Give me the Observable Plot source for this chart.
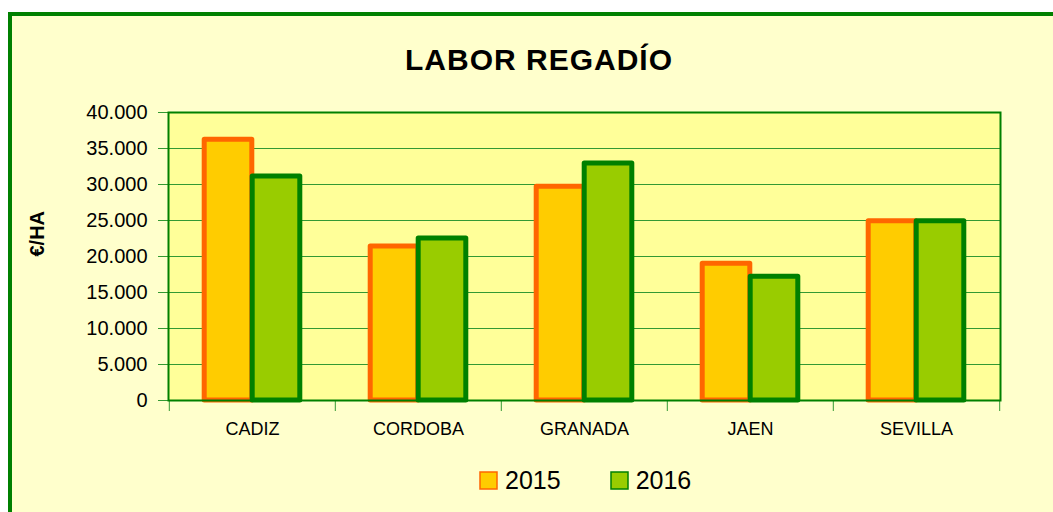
<!DOCTYPE html>
<html>
<head>
<meta charset="utf-8">
<script src="https://cdn.jsdelivr.net/npm/d3@7"></script>
<script src="https://cdn.jsdelivr.net/npm/@observablehq/plot@0.6"></script>
<style>
  html, body { margin: 0; padding: 0; background: #ffffff; overflow: hidden; width: 1053px; height: 512px; }
  #bg { position: absolute; left: 8px; top: 12px; width: 1100px; height: 600px; border: 4px solid #008000; background: #FFFFCC; }
  #chart { position: absolute; left: 0; top: 0; width: 1053px; font-family: "Liberation Sans", Arial, sans-serif; }
  #title { width: 1053px; height: 90px; box-sizing: border-box; padding-top: 45px; padding-left: 25px;
           line-height: 30px; font-size: 30px; letter-spacing: 1px; font-weight: bold; text-align: center; color: #000; }
  #plot svg { display: block; }
  #legend { position: absolute; left: 480px; top: 464px; }
  #legend .lg-swatches { font-family: "Liberation Sans", Arial, sans-serif !important; font-size: 25px !important; color: #000; margin: 0 !important; min-height: 33px !important; }
  #legend .lg-swatch { margin-right: 50px !important; }
  #legend .lg-swatch > svg { margin-right: 8px !important; }
</style>
</head>
<body>
<div id="bg"></div>
<div id="chart">
  <div id="title">LABOR REGADÍO</div>
  <div id="plot"></div>
</div>
<div id="legend"></div>
<script>
// ---- data ----
const cities = ["CADIZ", "CORDOBA", "GRANADA", "JAEN", "SEVILLA"];
const years = ["2015", "2016"];
const values2015 = [36200, 21400, 29700, 19000, 24900];
const values2016 = [31100, 22500, 32900, 17200, 24900];
const yTicks = [0, 5000, 10000, 15000, 20000, 25000, 30000, 35000, 40000];
const yLabel = "€/HA";

// ---- styles ----
const fills = ["#FFCC00", "#99CC00"];
const strokes = ["#FF6600", "#008000"];
const gridColor = "#339933";

const fmt = d3.formatLocale({decimal: ",", thousands: ".", grouping: [3], currency: ["", "€"]}).format(",d");

const rows2015 = cities.map((c, i) => ({city: c, year: years[0], value: values2015[i]}));
const rows2016 = cities.map((c, i) => ({city: c, year: years[1], value: values2016[i]}));

const W = 1053, mL = 168, mR = 53;
const band = (W - mL - mR) / cities.length;
const half = band / 2;
const barW = 48;

const plot = Plot.plot({
  width: W,
  height: 360,
  marginTop: 22,
  marginBottom: 50,
  marginLeft: mL,
  marginRight: mR,
  style: {background: "transparent", fontFamily: "Liberation Sans, Arial, sans-serif", overflow: "visible", color: "#000"},
  x: {domain: cities, padding: 0, axis: null},
  y: {domain: [0, 40000], axis: null},
  marks: [
    Plot.frame({fill: "#FFFF99"}),
    Plot.gridY(yTicks, {stroke: gridColor, strokeOpacity: 1, strokeWidth: 1}),
    Plot.axisY(yTicks, {tickFormat: fmt, tickSize: 10, tickPadding: 11, stroke: gridColor, fill: "#000", fontSize: 20, label: null}),
    Plot.axisX({tickSize: 0, tickPadding: 22, fontSize: 18, fill: "#000", label: null}),
    Plot.axisX({ticks: cities, tickSize: 11, tickFormat: () => "", dx: -half, stroke: gridColor, label: null}),
    Plot.axisX({ticks: [cities[cities.length - 1]], tickSize: 11, tickFormat: () => "", dx: half, stroke: gridColor, label: null}),
    Plot.barY(rows2015, {x: "city", y: "value", fill: fills[0], stroke: strokes[0], strokeWidth: 5, strokeLinejoin: "round",
      insetLeft: half - barW, insetRight: half}),
    Plot.barY(rows2016, {x: "city", y: "value", fill: fills[1], stroke: strokes[1], strokeWidth: 5, strokeLinejoin: "round",
      insetLeft: half, insetRight: half - barW}),
    Plot.frame({stroke: "#008000", strokeWidth: 2}),
    Plot.text([yLabel], {text: d => d, frameAnchor: "left", dx: -131, rotate: -90, fontWeight: "bold", fontSize: 20, fill: "#000"})
  ]
});
document.getElementById("plot").appendChild(plot);

const legend = Plot.legend({
  color: {type: "ordinal", domain: years, range: fills},
  legend: "swatches",
  swatchSize: 17,
  className: "lg"
});
legend.querySelectorAll("svg").forEach((s, i) => {
  s.querySelectorAll("rect").forEach(r => {
    r.setAttribute("stroke", strokes[i]);
    r.setAttribute("stroke-width", 1.5);
  });
});
document.getElementById("legend").appendChild(legend);
</script>
</body>
</html>
